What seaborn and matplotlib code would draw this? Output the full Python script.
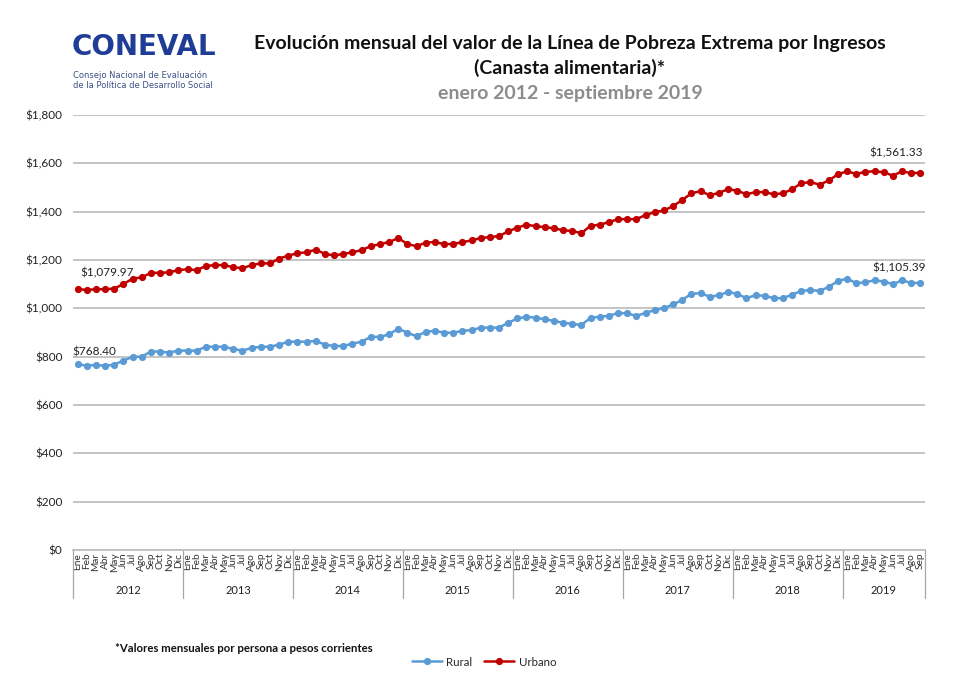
import matplotlib
matplotlib.use("Agg")
import matplotlib.pyplot as plt
import matplotlib.transforms as mtransforms
import seaborn as sns
import pandas as pd
import numpy as np

# ---------------- data ----------------
months = ["Ene", "Feb", "Mar", "Abr", "May", "Jun", "Jul", "Ago", "Sep", "Oct", "Nov", "Dic"]
years = ["2012", "2013", "2014", "2015", "2016", "2017", "2018", "2019"]
months_last_year = 9

rural = [768.40, 763, 766, 762, 767, 784, 799, 800, 821, 821, 817, 825,
         825, 825, 841, 841, 841, 832, 825, 836, 841, 841, 850, 862,
         862, 862, 865, 850, 844, 844, 854, 862, 882, 882, 892, 916,
         899, 885, 903, 907, 899, 899, 907, 910, 920, 920, 920, 940,
         958, 965, 961, 955, 948, 940, 936, 931, 961, 965, 969, 981,
         979, 969, 981, 993, 1001, 1016, 1035, 1060, 1063, 1048, 1054, 1068,
         1060, 1042, 1054, 1052, 1042, 1042, 1057, 1072, 1076, 1072, 1089, 1113,
         1123, 1104, 1108, 1116, 1111, 1100, 1116, 1105, 1105.39]

urbano = [1079.97, 1076, 1079, 1079, 1082, 1100, 1123, 1128, 1147, 1147, 1149, 1158,
          1162, 1158, 1175, 1179, 1179, 1170, 1166, 1179, 1186, 1186, 1206, 1218,
          1228, 1232, 1243, 1225, 1219, 1225, 1232, 1241, 1257, 1266, 1274, 1291,
          1266, 1257, 1272, 1274, 1266, 1266, 1274, 1281, 1291, 1295, 1299, 1318,
          1334, 1346, 1340, 1336, 1331, 1323, 1320, 1311, 1342, 1346, 1357, 1369,
          1369, 1369, 1386, 1398, 1405, 1423, 1448, 1476, 1485, 1468, 1478, 1493,
          1487, 1472, 1481, 1481, 1472, 1476, 1493, 1518, 1522, 1512, 1529, 1555,
          1567, 1556, 1565, 1567, 1563, 1549, 1567, 1559, 1561.33]

yticks = [0, 200, 400, 600, 800, 1000, 1200, 1400, 1600, 1800]

# --------------- build ---------------
month_labels = []
year_of = []
for yi, y in enumerate(years):
    n = months_last_year if yi == len(years) - 1 else 12
    month_labels += months[:n]
    year_of += [y] * n
idx = np.arange(len(month_labels))

df = pd.DataFrame({"idx": np.concatenate([idx, idx]),
                   "valor": rural + urbano,
                   "serie": ["Rural"] * len(idx) + ["Urbano"] * len(idx)})

sns.set_style("white")
plt.rcParams["font.family"] = ["Lato", "DejaVu Sans"]

W, H = 963, 682
fig = plt.figure(figsize=(W / 100, H / 100), dpi=100)
ax = fig.add_axes([73 / W, 1 - 550 / H, (925 - 73) / W, 435 / H])

colors = {"Rural": "#5b9bd5", "Urbano": "#c00000"}
for s in ["Rural", "Urbano"]:
    sub = df[df["serie"] == s]
    sns.lineplot(data=sub, x="idx", y="valor", ax=ax, color=colors[s], marker="o",
                 markersize=5.2, markeredgewidth=0, linewidth=1.8, label=s)

ax.set_xlim(-0.5, len(idx) - 0.5)
ax.set_ylim(0, 1800)
ax.set_yticks(yticks)
ax.set_yticklabels([f"${v:,.0f}" for v in yticks], fontsize=8.5, color="#222222")
ax.yaxis.grid(True, color="#bfbfbf", linewidth=1.3)
ax.set_axisbelow(True)
ax.set_xticks(idx)
ax.set_xticklabels(month_labels, rotation=90, fontsize=7.3, color="#333333")
ax.tick_params(axis="both", length=0)
ax.tick_params(axis="x", pad=2)
ax.tick_params(axis="y", pad=7.5)
ax.set_xlabel("")
ax.set_ylabel("")
for sp in ["top", "right", "left"]:
    ax.spines[sp].set_visible(False)
ax.spines["bottom"].set_color("#bfbfbf")
ax.spines["bottom"].set_linewidth(1.3)

# year separators and labels
trans = mtransforms.blended_transform_factory(ax.transData, ax.transAxes)
start = 0
bounds = [-0.5]
for y in years:
    n = year_of.count(y)
    ax.text(start + (n - 1) / 2, -0.092, y, transform=trans, ha="center", va="center",
            fontsize=8, color="#222222")
    start += n
    bounds.append(start - 0.5)
for b in bounds:
    ax.plot([b, b], [0, -0.11], transform=trans, color="#a6a6a6", lw=0.9, clip_on=False)

# value labels
ax.annotate(f"${urbano[0]:,.2f}", xy=(idx[0], urbano[0]), xytext=(30, 16),
            textcoords="offset pixels", ha="center", va="center", fontsize=8.5, color="#222222")
ax.annotate(f"${rural[0]:,.2f}", xy=(idx[0], rural[0]), xytext=(17, 12),
            textcoords="offset pixels", ha="center", va="center", fontsize=8.5, color="#222222")
ax.annotate(f"${urbano[-1]:,.2f}", xy=(idx[-1], urbano[-1]), xytext=(-24, 20),
            textcoords="offset pixels", ha="center", va="center", fontsize=8.5, color="#222222")
ax.annotate(f"${rural[-1]:,.2f}", xy=(idx[-1], rural[-1]), xytext=(-21, 15),
            textcoords="offset pixels", ha="center", va="center", fontsize=8.5, color="#222222")

# legend
handles, labels = ax.get_legend_handles_labels()
if ax.legend_:
    ax.legend_.remove()
fig.legend(handles, labels, loc="center", bbox_to_anchor=(484 / W, 1 - 662 / H), ncol=2,
           frameon=False, fontsize=8.3, handlelength=2.6, columnspacing=1.0, handletextpad=0.4)

# titles
title_kw = dict(ha="center", va="center", fontsize=14, fontweight="bold")
fig.text(570 / W, 1 - 44 / H, "Evolución mensual del valor de la Línea de Pobreza Extrema por Ingresos",
         color="#111111", **title_kw)
fig.text(570 / W, 1 - 68 / H, "(Canasta alimentaria)*", color="#111111", **title_kw)
fig.text(570 / W, 1 - 94 / H, "enero 2012 - septiembre 2019", color="#8c8c8c", **title_kw)

# logo
fig.text(72 / W, 1 - 47 / H, "CONEVAL", ha="left", va="center", fontsize=20,
         fontweight="heavy", color="#1f3c96", family=["DejaVu Sans"])
fig.text(73 / W, 1 - 75 / H, "Consejo Nacional de Evaluación", ha="left", va="center",
         fontsize=6.0, color="#3d4f86", family=["DejaVu Sans"])
fig.text(73 / W, 1 - 85 / H, "de la Política de Desarrollo Social", ha="left", va="center",
         fontsize=6.0, color="#3d4f86", family=["DejaVu Sans"])

# footnote
fig.text(115 / W, 1 - 649 / H, "*Valores mensuales por persona a pesos corrientes", ha="left",
         va="center", fontsize=8.2, fontweight="bold", color="#111111")

fig.savefig("out.png", dpi=100, facecolor="white")
